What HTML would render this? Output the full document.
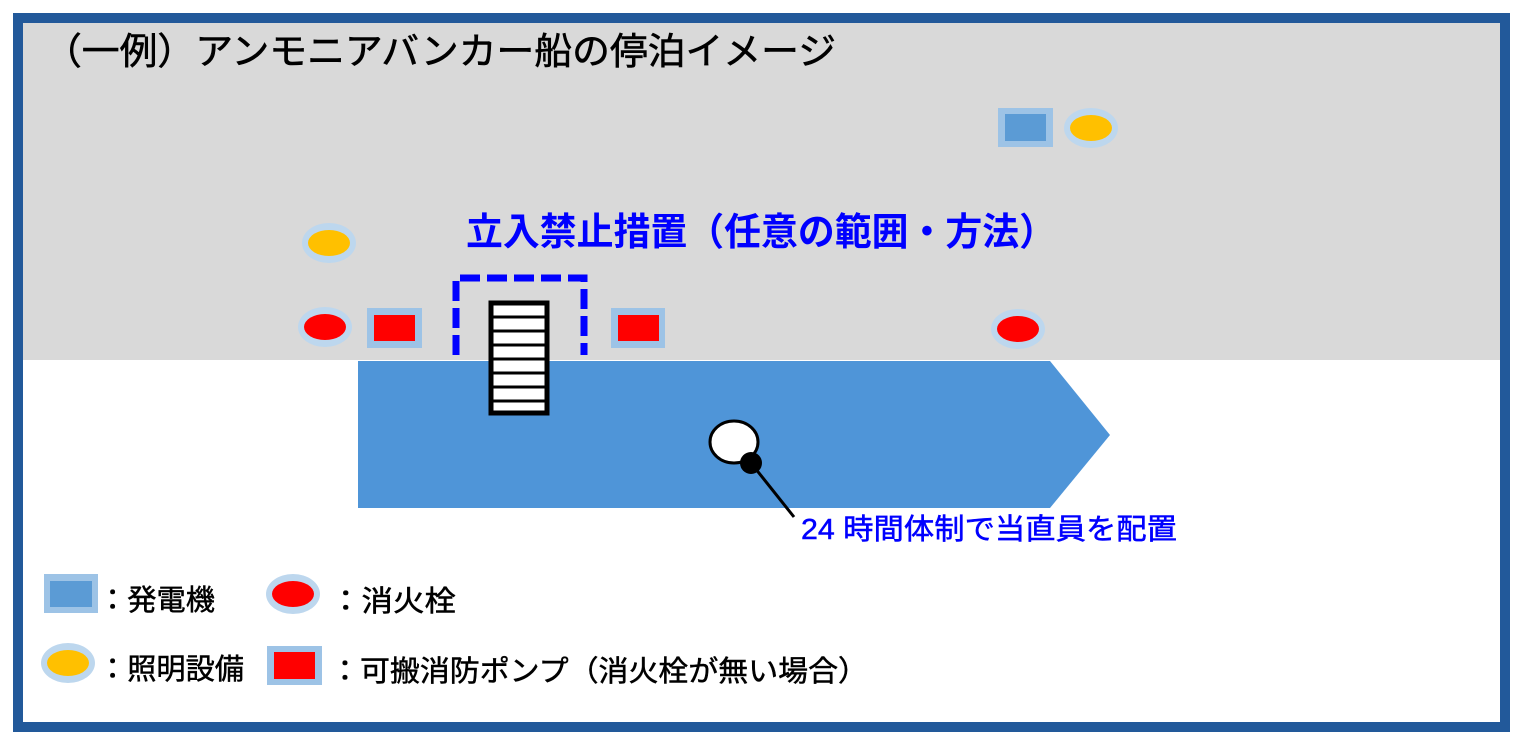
<!DOCTYPE html>
<html><head><meta charset="utf-8"><style>
html,body{margin:0;padding:0;background:#fff;}
svg{display:block;}
text{font-family:"Liberation Sans","Noto Sans CJK JP",sans-serif;}
</style></head><body>
<svg width="1522" height="741" viewBox="0 0 1522 741" xmlns="http://www.w3.org/2000/svg">
<rect x="0" y="0" width="1522" height="741" fill="#fff"/>
<rect x="13" y="13" width="1497" height="719" fill="#22599a"/>
<rect x="23" y="23" width="1477" height="699" fill="#fff"/>
<rect x="23" y="23" width="1477" height="337" fill="#d9d9d9"/>
<text x="44" y="64" font-size="37" fill="#000" stroke="#000" stroke-width="0.6" textLength="792" lengthAdjust="spacingAndGlyphs">（一例）アンモニアバンカー船の停泊イメージ</text>
<!-- ship -->
<polygon points="358,361 1050,361 1110,435 1050,508 358,508" fill="#4f95d8"/>
<!-- dashed box -->
<path d="M456,355 L456,278 L584,278 L584,355" fill="none" stroke="#0000ff" stroke-width="7" stroke-dasharray="20,7"/>
<!-- ladder -->
<rect x="491" y="303" width="56" height="110" fill="#fff" stroke="#000" stroke-width="5"/>
<g stroke="#000" stroke-width="3">
<line x1="491" y1="317" x2="547" y2="317"/><line x1="491" y1="331" x2="547" y2="331"/>
<line x1="491" y1="345" x2="547" y2="345"/><line x1="491" y1="359" x2="547" y2="359"/>
<line x1="491" y1="373" x2="547" y2="373"/><line x1="491" y1="387" x2="547" y2="387"/>
<line x1="491" y1="401" x2="547" y2="401"/>
</g>
<text x="466" y="245" font-size="38" font-weight="bold" fill="#0000ff" textLength="590" lengthAdjust="spacingAndGlyphs">立入禁止措置（任意の範囲・方法）</text>
<!-- generator top right -->
<rect x="998" y="108" width="55" height="39" fill="#9dc3e6"/><rect x="1005" y="114" width="41" height="27" fill="#5b9bd5"/>
<ellipse cx="1091" cy="128" rx="27" ry="20" fill="#bdd7ee"/><ellipse cx="1091" cy="128" rx="21" ry="13" fill="#ffc000"/>
<!-- light left -->
<ellipse cx="329" cy="243" rx="27" ry="20" fill="#bdd7ee"/><ellipse cx="329" cy="243" rx="21" ry="13" fill="#ffc000"/>
<!-- hydrants -->
<ellipse cx="325" cy="327" rx="27" ry="20" fill="#bdd7ee"/><ellipse cx="325" cy="327" rx="21" ry="13" fill="#ff0000"/>
<ellipse cx="1018" cy="329" rx="27" ry="20" fill="#bdd7ee"/><ellipse cx="1018" cy="329" rx="21" ry="13" fill="#ff0000"/>
<!-- pumps -->
<rect x="367" y="308" width="55" height="40" fill="#9dc3e6"/><rect x="374" y="315" width="41" height="26" fill="#ff0000"/>
<rect x="611" y="308" width="54" height="40" fill="#9dc3e6"/><rect x="618" y="315" width="41" height="26" fill="#ff0000"/>
<!-- watchman -->
<ellipse cx="734" cy="442" rx="24" ry="21" fill="#fff" stroke="#000" stroke-width="3"/>
<line x1="751" y1="463" x2="794" y2="517" stroke="#000" stroke-width="3"/>
<circle cx="751" cy="463" r="11" fill="#000"/>
<text x="801" y="539" font-size="29" fill="#0000ff" stroke="#0000ff" stroke-width="0.5" textLength="376" lengthAdjust="spacingAndGlyphs">24 時間体制で当直員を配置</text>
<!-- legend -->
<rect x="44" y="574" width="54" height="39" fill="#9dc3e6"/><rect x="50" y="581" width="42" height="26" fill="#5b9bd5"/>
<text x="98" y="610" font-size="29" fill="#000" stroke="#000" stroke-width="0.5" textLength="117" lengthAdjust="spacingAndGlyphs">：発電機</text>
<ellipse cx="293" cy="594" rx="27" ry="20" fill="#bdd7ee"/><ellipse cx="293" cy="594" rx="21" ry="13" fill="#ff0000"/>
<text x="330" y="611" font-size="29" fill="#000" stroke="#000" stroke-width="0.5" textLength="126" lengthAdjust="spacingAndGlyphs">：消火栓</text>
<ellipse cx="68" cy="663" rx="27" ry="20" fill="#bdd7ee"/><ellipse cx="68" cy="663" rx="21" ry="13" fill="#ffc000"/>
<text x="98" y="679" font-size="29" fill="#000" stroke="#000" stroke-width="0.5" textLength="146" lengthAdjust="spacingAndGlyphs">：照明設備</text>
<rect x="267" y="646" width="55" height="39" fill="#9dc3e6"/><rect x="274" y="652" width="41" height="27" fill="#ff0000"/>
<text x="330" y="681" font-size="29" fill="#000" stroke="#000" stroke-width="0.5" textLength="538" lengthAdjust="spacingAndGlyphs">：可搬消防ポンプ（消火栓が無い場合）</text>
</svg>
</body></html>
